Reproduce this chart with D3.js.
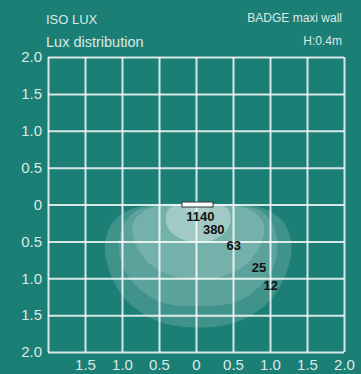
<!DOCTYPE html>
<html><head><meta charset="utf-8">
<script src="https://cdn.jsdelivr.net/npm/d3@7"></script>
<style>
html,body{margin:0;padding:0;background:#1b7f75;}
svg{display:block;}
text{font-family:"Liberation Sans",Arial,sans-serif;}
</style></head>
<body>
<script>
// ---- data ----
const xTicks = [-2, -1.5, -1, -0.5, 0, 0.5, 1, 1.5, 2];
const xTickLabels = ["", "1.5", "1.0", "0.5", "0", "0.5", "1.0", "1.5", "2.0"];
const yTicks = [-2, -1.5, -1, -0.5, 0, 0.5, 1, 1.5, 2];
const yTickLabels = ["2.0", "1.5", "1.0", "0.5", "0", "0.5", "1.0", "1.5", "2.0"];
const luxLevels = [12, 25, 63, 380, 1140];
// right-half profiles [x (m), depth (m)] of each isolux contour
const contour12 = [[0, 0], [0.6, 0.0], [0.95, 0.08], [1.16, 0.25], [1.26, 0.55], [1.2, 0.9], [0.97, 1.3], [0.55, 1.58], [0, 1.67]];
const contour25 = [[0, 0], [0.55, 0.01], [0.86, 0.1], [1.02, 0.3], [1.07, 0.62], [0.95, 0.97], [0.56, 1.3], [0, 1.38]];
const contour63 = [[0, 0], [0.42, 0.01], [0.72, 0.08], [0.88, 0.25], [0.86, 0.5], [0.66, 0.8], [0.35, 0.97], [0, 1.02]];
const contour380 = [[0, 0], [0.25, 0.0], [0.4, 0.06], [0.44, 0.2], [0.38, 0.36], [0.2, 0.48], [0, 0.51]];
const contour1140 = [[0, 0.02], [0.12, 0.02], [0.17, 0.06], [0.11, 0.11], [0, 0.12]];
const contours = [contour12, contour25, contour63, contour380, contour1140];
const labelX = [1.01, 0.85, 0.51, 0.24, 0.06];
const labelY = [1.10, 0.85, 0.56, 0.34, 0.16];
const lamp = {x0: -0.19, x1: 0.23, y0: -0.034, y1: 0.034};

// ---- drawing ----
const W = 361, H = 374;
const svg = d3.select("body").append("svg").attr("width", W).attr("height", H);
svg.append("rect").attr("width", W).attr("height", H).attr("fill", "#1b7f75");

const x = d3.scaleLinear().domain([-2, 2]).range([48, 344]);
const y = d3.scaleLinear().domain([-2, 2]).range([57, 352]);
const textCol = "#dde9e6";

// contours
const line = d3.line().x(d => x(d[0] + 0.03)).y(d => y(d[1])).curve(d3.curveCatmullRomClosed.alpha(0.5));
const opac = [0.16, 0.14, 0.16, 0.33, 0.12];
contours.forEach((c, i) => {
  const right = c.slice();
  const left = c.slice(1, c.length - 1).reverse().map(d => [-d[0], d[1]]);
  const pts = right.concat(left);
  svg.append("path").attr("d", line(pts)).attr("fill", "#ffffff").attr("fill-opacity", opac[i]);
});

// grid via axes
const gx = svg.append("g").attr("transform", `translate(0,${y(2)})`)
  .call(d3.axisBottom(x).tickValues(xTicks).tickSize(-(y(2) - y(-2))).tickPadding(8)
    .tickFormat((d, i) => xTickLabels[i]));
const gy = svg.append("g").attr("transform", `translate(${x(-2)},0)`)
  .call(d3.axisLeft(y).tickValues(yTicks).tickSize(-(x(2) - x(-2))).tickPadding(6)
    .tickFormat((d, i) => yTickLabels[i]));
[gx, gy].forEach(g => {
  g.select(".domain").remove();
  g.selectAll(".tick line").attr("stroke", "#ffffff").attr("stroke-opacity", 0.82).attr("stroke-width", 2);
  g.selectAll(".tick text").attr("fill", textCol).style("font-size", "15px");
});
gx.selectAll(".tick text").attr("dy", "0.71em").attr("y", 7);

// lamp
svg.append("rect").attr("x", x(lamp.x0)).attr("y", y(lamp.y0))
  .attr("width", x(lamp.x1) - x(lamp.x0)).attr("height", y(lamp.y1) - y(lamp.y0))
  .attr("fill", "#ffffff").attr("stroke", "#333333").attr("stroke-width", 1);

// lux labels
svg.selectAll("text.lux").data(luxLevels).enter().append("text")
  .attr("class", "lux")
  .attr("x", (d, i) => x(labelX[i])).attr("y", (d, i) => y(labelY[i]))
  .attr("text-anchor", "middle").attr("dy", "0.36em")
  .attr("fill", "#111111").style("font-size", "13px").style("font-weight", "bold")
  .text(d => d);

// titles
svg.append("text").attr("x", 46).attr("y", 24).attr("fill", textCol).style("font-size", "13px").text("ISO LUX");
svg.append("text").attr("x", 46).attr("y", 47).attr("fill", textCol).style("font-size", "14.5px").text("Lux distribution");
svg.append("text").attr("x", 342).attr("y", 22).attr("text-anchor", "end").attr("fill", textCol).style("font-size", "12px").text("BADGE maxi wall");
svg.append("text").attr("x", 342).attr("y", 45).attr("text-anchor", "end").attr("fill", textCol).style("font-size", "12px").text("H:0.4m");
</script>
</body></html>
